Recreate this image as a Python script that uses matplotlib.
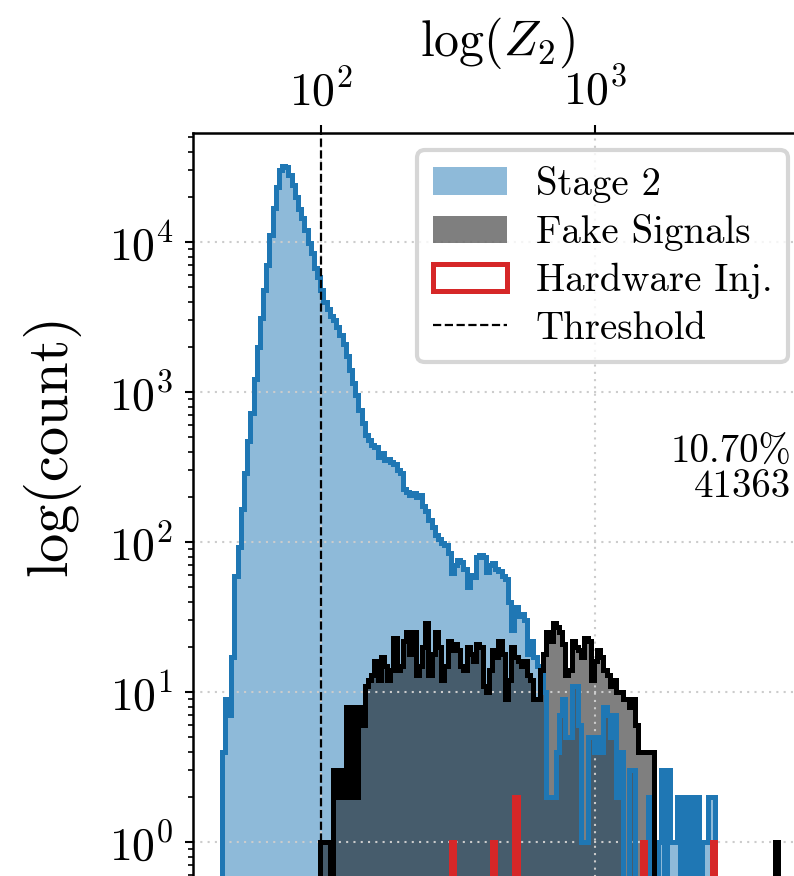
import numpy as np
import matplotlib
matplotlib.use("Agg")
import matplotlib.pyplot as plt

plt.rcParams['font.family'] = 'serif'
plt.rcParams['font.serif'] = ['cmr10']
plt.rcParams['mathtext.fontset'] = 'cm'
plt.rcParams['axes.formatter.use_mathtext'] = True

# shared log-spaced bins over the full Z2 range
z_lo, z_hi, n_bins = 43.4, 4673.0, 175
edges = np.logspace(np.log10(z_lo), np.log10(z_hi), n_bins + 1)

stage2_counts = [
    4, 9, 7, 17, 59, 93, 165, 290, 470, 720,
    1230, 2000, 3100, 4800, 7000, 11100, 16800, 23400, 30000, 32000,
    31500, 28000, 24000, 20000, 16700, 14400, 12100, 9800, 8400, 6700,
    5800, 4800, 4000, 3600, 3200, 3000, 2700, 2400, 2100, 1750,
    1400, 1150, 950, 760, 620, 520, 480, 440, 430, 370,
    390, 350, 360, 340, 330, 300, 290, 225, 215, 205,
    212, 200, 205, 175, 160, 140, 125, 112, 105, 98,
    95, 85, 62, 70, 76, 74, 66, 50, 60, 58,
    80, 82, 80, 63, 70, 72, 66, 64, 59, 57,
    40, 26, 37, 32, 33, 30, 18, 22, 17, 15,
    14, 10, 2, 2, 2, 4, 7, 9, 5, 5,
    11, 11, 6, 1, 1, 5, 5, 4, 5, 4,
    8, 7, 5, 7, 2, 4, 0, 0, 3, 3,
    0, 0, 0, 0, 2, 0, 0, 1, 3, 0,
    3, 1, 1, 2, 0, 2, 0, 2, 0, 2,
    0, 1, 1, 2, 2, 0, 0, 0, 0, 0,
    0, 0, 0, 0, 0, 0, 0, 0, 0, 0,
    0, 0, 0, 0, 0,
]

fake_counts = [
    0, 0, 0, 0, 0, 0, 0, 0, 0, 0,
    0, 0, 0, 0, 0, 0, 0, 0, 0, 0,
    0, 0, 0, 0, 0, 0, 0, 0, 0, 0,
    0, 1, 1, 1, 0,
    3, 2, 3, 2, 8, 2, 8, 2, 8, 6,
    11, 12, 13, 16, 12, 17, 15, 12, 14, 23,
    14, 15, 22, 25, 18, 25, 13, 15, 20, 29,
    13, 18, 25, 20, 12, 15, 22, 19, 21, 19,
    15, 14, 20, 18, 16, 21, 20, 11, 10, 14,
    19, 17, 22, 18, 9, 12, 20, 17, 16, 15,
    16, 13, 12, 9, 9, 14, 18, 25, 22, 29,
    27, 25, 21, 13, 14, 22, 20, 19, 17, 23,
    22, 12, 16, 19, 17, 14, 13, 11, 12, 10,
    10, 9, 9, 8, 9, 6, 4, 4, 4, 4, 4,
    0, 0, 0, 0, 0, 0, 0, 0, 0, 0,
    0, 0, 0, 0, 0, 0, 0, 0, 0, 0,
    0, 0, 0, 0, 0, 0, 0, 0, 0, 0,
    0, 0, 0, 0, 0, 0, 0, 0,
    1,
]

hw_inj_z2 = [302, 427, 515, 515, 1500, 2700]

threshold = 100
frac_above = "10.70%"
n_above = 41363

fig = plt.figure(figsize=(7.94, 8.76), dpi=100)
ax = fig.add_axes([193 / 794, 1 - 901.7 / 876, (801 - 193) / 794, (901.7 - 133) / 876])
ax.set_xscale('log')
ax.set_yscale('log')

centers = edges[:-1]
lw = 3.6
h1 = ax.hist(centers, bins=edges, weights=stage2_counts, histtype='stepfilled',
             color='C0', alpha=0.5, label='Stage 2')[2][0]
h2 = ax.hist(centers, bins=edges, weights=fake_counts, histtype='stepfilled',
             color='k', alpha=0.5, label='Fake Signals')[2][0]
ax.hist(centers, bins=edges, weights=stage2_counts, histtype='step', color='C0', lw=lw)
ax.hist(centers, bins=edges, weights=fake_counts, histtype='step', color='k', lw=lw)
h3 = ax.hist(hw_inj_z2, bins=edges, histtype='step', color='C3', lw=lw,
             label='Hardware Inj.')[2][0]
h4 = ax.axvline(threshold, color='k', ls='--', lw=1.6, label='Threshold')

ax.set_xlim(34.1, 5650)
ax.set_ylim(0.4, 5.33e4)

ax.xaxis.tick_top()
ax.xaxis.set_label_position('top')
ax.set_xlabel(r'$\log(Z_2)$', fontsize=36, labelpad=8)
ax.set_ylabel('log(count)', fontsize=42)
ax.yaxis.set_label_coords(-0.185, 0.594)

ax.tick_params(which='major', labelsize=33, length=6, width=1.5, pad=8)
ax.tick_params(axis='y', which='minor', length=3.5, width=1.2)
ax.tick_params(axis='x', which='minor', top=False, bottom=False)
for s in ax.spines.values():
    s.set_linewidth(1.8)

ax.grid(True, which='major', ls=(0, (1, 2.5)), color='0.8', lw=1.5)

leg = ax.legend(handles=[h1, h2, h3, h4], loc='upper right', fontsize=28,
                bbox_to_anchor=(788 / 794, 1 - 150 / 876), bbox_transform=fig.transFigure,
                borderaxespad=0, fancybox=True, edgecolor='0.8', framealpha=0.8,
                handlelength=1.9, handletextpad=0.75, labelspacing=0.3)
leg.get_frame().set_linewidth(3)

fig.text(791 / 794, 1 - 470 / 876, frac_above + '\n' + str(n_above),
         ha='right', va='center', fontsize=28, linespacing=0.95)

fig.savefig('out.png', dpi=100)
